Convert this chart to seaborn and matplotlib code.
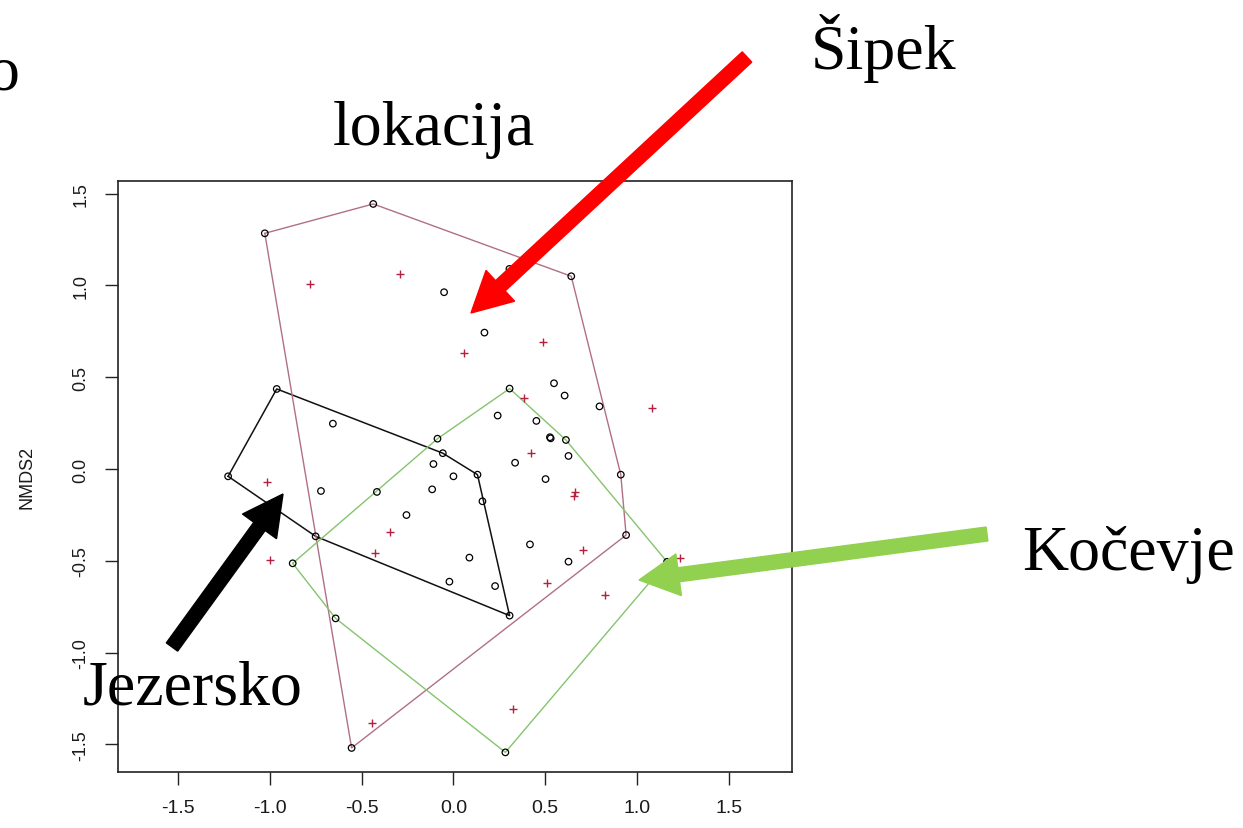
import numpy as np
import pandas as pd
import matplotlib
matplotlib.use("Agg")
import matplotlib.pyplot as plt
import seaborn as sns
from matplotlib.patches import FancyArrow

# ---------------- data (NMDS site scores per location, species scores) -------------
jezersko_x = [-1.228, -0.963, -0.058, 0.131, 0.158, 0.306, -0.751, -0.657, -0.722,
              -0.109, 0.000, -0.116, -0.256, 0.087, -0.022, 0.227]
jezersko_y = [-0.040, 0.436, 0.086, -0.031, -0.176, -0.799, -0.367, 0.247, -0.120,
              0.027, -0.040, -0.111, -0.251, -0.483, -0.614, -0.638]

sipek_x = [-1.028, -0.437, 0.642, 0.796, 0.912, 0.941, -0.555, -0.051, 0.305,
           0.169, 0.548, 0.606, 0.526, 0.530, 0.627]
sipek_y = [1.284, 1.444, 1.050, 0.341, -0.031, -0.360, -1.520, 0.963, 1.090,
           0.743, 0.467, 0.400, 0.173, 0.167, 0.071]

kocevje_x = [-0.876, -0.417, -0.087, 0.306, 0.613, 1.164, 0.283, -0.642, 0.241,
             0.452, 0.336, 0.502, 0.417, 0.627]
kocevje_y = [-0.514, -0.125, 0.165, 0.438, 0.158, -0.506, -1.544, -0.814, 0.291,
             0.262, 0.034, -0.055, -0.411, -0.505]

species_x = [-0.782, -0.292, 0.058, 0.490, 0.386, 1.083, 0.424, -1.014, -0.343,
             -0.430, -0.999, -0.444, 0.662, 0.655, 0.707, 1.235, 0.510, 0.825, 0.323]
species_y = [1.007, 1.065, 0.634, 0.692, 0.385, 0.334, 0.087, -0.069, -0.343,
             -0.456, -0.496, -1.383, -0.127, -0.145, -0.440, -0.485, -0.623, -0.688, -1.310]

tick_values = [-1.5, -1.0, -0.5, 0.0, 0.5, 1.0, 1.5]
tick_labels = ["-1.5", "-1.0", "-0.5", "0.0", "0.5", "1.0", "1.5"]

groups = ["Jezersko", "Šipek", "Kočevje"]
hull_colors = {"Jezersko": "#111111", "Šipek": "#b07084", "Kočevje": "#84c46e"}

sites = pd.concat([
    pd.DataFrame({"NMDS1": jezersko_x, "NMDS2": jezersko_y, "lokacija": "Jezersko"}),
    pd.DataFrame({"NMDS1": sipek_x, "NMDS2": sipek_y, "lokacija": "Šipek"}),
    pd.DataFrame({"NMDS1": kocevje_x, "NMDS2": kocevje_y, "lokacija": "Kočevje"}),
], ignore_index=True)
species = pd.DataFrame({"NMDS1": species_x, "NMDS2": species_y})


def convex_hull(pts):
    pts = sorted(set(map(tuple, pts)))
    def cross(o, a, b):
        return (a[0] - o[0]) * (b[1] - o[1]) - (a[1] - o[1]) * (b[0] - o[0])
    lower, upper = [], []
    for p in pts:
        while len(lower) >= 2 and cross(lower[-2], lower[-1], p) <= 0:
            lower.pop()
        lower.append(p)
    for p in reversed(pts):
        while len(upper) >= 2 and cross(upper[-2], upper[-1], p) <= 0:
            upper.pop()
        upper.append(p)
    h = lower[:-1] + upper[:-1]
    h.append(h[0])
    return np.array(h)


# ---------------- figure ----------------
sns.set_style("white")
plt.rcParams["font.family"] = ["Liberation Sans", "DejaVu Sans"]

W, H = 1243, 829
fig = plt.figure(figsize=(W / 100, H / 100), dpi=100)
fig.patch.set_facecolor("white")
ax = fig.add_axes([118 / W, 1 - 773 / H, (792 - 118) / W, (773 - 182) / H])

# site points (open circles)
sns.scatterplot(data=sites, x="NMDS1", y="NMDS2", marker="o", s=22,
                facecolor="none", edgecolor="black", linewidth=0.9,
                ax=ax, legend=False, zorder=3)
# species points (red crosses)
sns.scatterplot(data=species, x="NMDS1", y="NMDS2", marker="+", s=30,
                color="#b3213f", edgecolor="#b3213f", linewidth=1.0,
                ax=ax, legend=False, zorder=3)

# convex hulls per location
for g in groups:
    sub = sites[sites["lokacija"] == g]
    hull = convex_hull(sub[["NMDS1", "NMDS2"]].values)
    ax.plot(hull[:, 0], hull[:, 1], color=hull_colors[g],
            lw=1.1 if g == "Jezersko" else 1.0, zorder=2)

ax.set_xlim(-1.828, 1.845)
ax.set_ylim(-1.651, 1.569)
ax.set_xticks(tick_values)
ax.set_xticklabels(tick_labels)
ax.set_yticks(tick_values)
ax.set_yticklabels(tick_labels)
ax.set_xlabel("")
ax.set_ylabel("NMDS2", fontsize=13, color="#1a1a1a")
ax.yaxis.set_label_coords(-0.123, 0.5)

ax.tick_params(axis="both", direction="out", length=9.4, width=1.0,
               color="#222222", labelsize=13, labelcolor="#1a1a1a",
               bottom=True, left=True)
ax.tick_params(axis="x", pad=10, labelsize=14)
ax.tick_params(axis="y", pad=11, labelrotation=90)
for lab in ax.get_yticklabels():
    lab.set_va("center")
for sp in ax.spines.values():
    sp.set_color("#222222")
    sp.set_linewidth(1.2)
    sp.set_visible(True)

# ---------------- slide annotations ----------------
serif = ["Liberation Serif", "DejaVu Serif"]
def ftext(x, y, s, ha="left"):
    fig.text(x / W, 1 - y / H, s, fontsize=46, family=serif,
             ha=ha, va="baseline", color="black")

ftext(20, 90, "o", ha="right")
ftext(333, 145, "lokacija")
ftext(811, 69, "Šipek")
ftext(1022, 570, "Kočevje")
ftext(83, 705, "Jezersko")


def arrow(x0, y0, x1, y1, color):
    # pixel coordinates (top-left origin) -> inches for dpi_scale_trans
    xs, ys = x0 / 100, (H - y0) / 100
    xe, ye = x1 / 100, (H - y1) / 100
    a = FancyArrow(xs, ys, xe - xs, ye - ys, width=0.14, head_width=0.42,
                   head_length=0.40, length_includes_head=True,
                   color=color, transform=fig.dpi_scale_trans, zorder=5)
    fig.add_artist(a)

arrow(747, 58, 471, 314, "#ff0000")
arrow(172, 648, 283, 495, "#000000")
arrow(987, 535, 639, 581, "#92d050")

fig.savefig("out.png", dpi=100, facecolor="white")
